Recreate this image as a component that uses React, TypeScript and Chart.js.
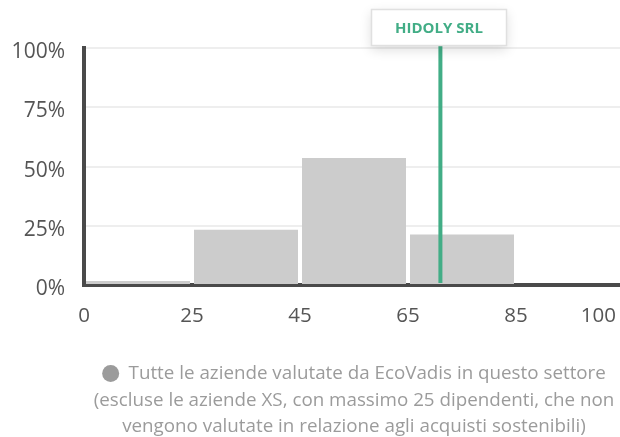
import React, { useEffect, useRef } from "react";
import { Chart, registerables } from "chart.js";

Chart.register(...registerables);

// ---- data ----
const binEdges = [0, 25, 45, 65, 85, 100];
const binShares = [1.7, 23.3, 53.6, 21.3, 0];
const yTickStep = 25;
const companyName = "HIDOLY SRL";
const companyScore = 71;
const legendLabel = "Tutte le aziende valutate da EcoVadis in questo settore";
const legendNote = [
  "(escluse le aziende XS, con massimo 25 dipendenti, che non",
  "vengono valutate in relazione agli acquisti sostenibili)",
];

const FONT = "'Open Sans', 'Noto Sans', sans-serif";
const GREEN = "#42ad86";
const AXIS = "#4a4a4a";
const TICK = "#555555";
const MUTED = "#9b9b9b";

function scoreToPos(score: number): number {
  for (let i = 0; i < binEdges.length - 1; i++) {
    const a = binEdges[i];
    const b = binEdges[i + 1];
    if (score >= a && score <= b) return i + (score - a) / (b - a);
  }
  return 0;
}

const markerPlugin = {
  id: "companyMarker",
  afterDatasetsDraw(chart: any) {
    const { ctx, chartArea, scales } = chart;
    const x = scales.x.getPixelForValue(scoreToPos(companyScore));
    ctx.save();
    ctx.strokeStyle = GREEN;
    ctx.lineWidth = 4;
    ctx.beginPath();
    ctx.moveTo(x, chartArea.top - 2);
    ctx.lineTo(x, chartArea.bottom - 2);
    ctx.stroke();

    const w = 136;
    const h = 37;
    const bx = Math.round(x - 1 - w / 2);
    const by = chartArea.top - 39;
    ctx.shadowColor = "rgba(0,0,0,0.13)";
    ctx.shadowBlur = 12;
    ctx.shadowOffsetY = 4;
    ctx.fillStyle = "#ffffff";
    ctx.fillRect(bx, by, w, h);
    ctx.shadowColor = "transparent";
    ctx.shadowBlur = 0;
    ctx.shadowOffsetY = 0;
    ctx.strokeStyle = "#e0e0e0";
    ctx.lineWidth = 1.5;
    ctx.strokeRect(bx + 0.5, by + 0.5, w - 1, h - 1);
    ctx.fillStyle = GREEN;
    ctx.font = `bold 15px ${FONT}`;
    ctx.textAlign = "center";
    ctx.textBaseline = "middle";
    ctx.fillText(companyName, bx + w / 2, by + h / 2 + 1);
    ctx.restore();
  },
};

export default function App() {
  const ref = useRef<HTMLCanvasElement>(null);

  useEffect(() => {
    const canvas = ref.current;
    if (!canvas) return;
    const chart = new Chart(canvas, {
      type: "bar",
      data: {
        datasets: [
          {
            label: legendLabel,
            data: binShares.map((v, i) => ({ x: i + 0.5, y: v })),
            backgroundColor: "#cccccc",
            borderWidth: 0,
            barPercentage: 0.963,
            categoryPercentage: 1,
          },
        ],
      },
      options: {
        responsive: false,
        maintainAspectRatio: false,
        animation: false,
        devicePixelRatio: 1,
        layout: {
          autoPadding: false,
          padding: { top: 48, left: 0, right: 0, bottom: 0 },
        },
        scales: {
          x: {
            type: "linear",
            min: 0,
            max: binEdges.length - 1,
            offset: false,
            grid: { display: false, offset: false, drawTicks: false },
            border: { display: true, color: AXIS, width: 4 },
            afterFit: (s: any) => {
              s.paddingLeft = 0;
              s.paddingRight = 0;
            },
            ticks: {
              stepSize: 1,
              autoSkip: false,
              maxRotation: 0,
              padding: 19,
              color: TICK,
              font: { family: FONT, size: 20.5 },
              callback: (v: any) => {
                const i = Math.round(Number(v));
                const lbl = String(binEdges[i]);
                return i === binEdges.length - 1 ? lbl + "\u2003\u2003\u2002" : lbl;
              },
            },
          },
          y: {
            min: 0,
            max: 100,
            grid: { color: "#eeeeee", lineWidth: 2, drawTicks: false },
            border: { display: true, color: AXIS, width: 4 },
            afterFit: (s: any) => {
              s.width = 84;
            },
            ticks: {
              stepSize: yTickStep,
              padding: 19,
              labelOffset: 4,
              color: TICK,
              font: { family: FONT, size: 21 },
              callback: (v: any) => `${v}%`,
            },
          },
        },
        plugins: {
          tooltip: { enabled: false },
          legend: {
            display: true,
            position: "bottom",
            fullSize: false,
            align: "center",
            labels: {
              usePointStyle: true,
              pointStyle: "circle",
              boxHeight: 12,
              pointStyleWidth: 17,
              padding: 16.5,
              color: MUTED,
              font: { family: FONT, size: 18.8 },
              generateLabels: () => [
                {
                  text: legendLabel,
                  fillStyle: MUTED,
                  strokeStyle: MUTED,
                  lineWidth: 0,
                  pointStyle: "circle",
                  hidden: false,
                  datasetIndex: 0,
                  fontColor: MUTED,
                } as any,
              ],
            },
          },
          subtitle: {
            display: true,
            position: "bottom",
            fullSize: false,
            text: legendNote,
            color: MUTED,
            font: { family: FONT, size: 18.8, lineHeight: "26px", weight: "normal" },
            padding: { top: -5, bottom: -3 },
          },
        },
      } as any,
      plugins: [markerPlugin],
    });
    return () => chart.destroy();
  }, []);

  return (
    <div style={{ position: "absolute", left: 0, top: 0, width: 620, height: 437, overflow: "hidden" }}>
      <canvas ref={ref} width={624} height={437} style={{ display: "block" }} />
    </div>
  );
}
